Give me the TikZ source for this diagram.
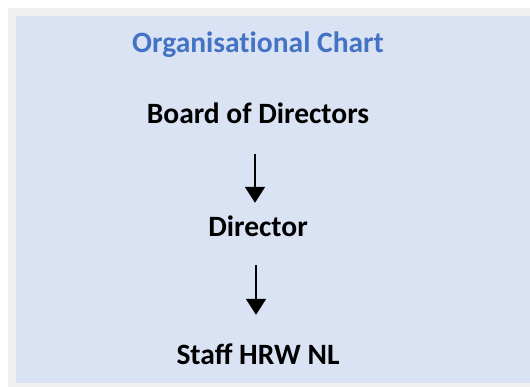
\documentclass[tikz,border=0pt]{standalone}
\usepackage{fontspec}
\setmainfont{Carlito}
\usetikzlibrary{arrows.meta}
\definecolor{outergray}{RGB}{240,240,240}
\definecolor{panelblue}{RGB}{218,227,243}
\definecolor{titleblue}{RGB}{68,114,196}
\tikzset{
  lbl/.style={anchor=base, inner sep=0pt, text height=19pt, text depth=6pt, font=\fontsize{29.5}{34}\selectfont\bfseries},
  arr/.style={line width=2pt, -{Triangle[width=20pt,length=16pt]}}
}
\begin{document}
\begin{tikzpicture}[x=1pt,y=1pt]
\useasboundingbox (0,0) rectangle (530,387);
\fill[white] (0,0) rectangle (530,387);
\fill[outergray] (8,0) rectangle (530,379);
\fill[panelblue] (16,4) rectangle (530,371);
\node[lbl, text=titleblue] (title) at (258,334) {\addfontfeatures{Ligatures=NoCommon}Organisational Chart};
\node[lbl] (board) at (258,263) {Board of Directors};
\node[lbl] (director) at (258,150) {Director};
\node[lbl] (staff) at (258,22) {Staff HRW NL};
\draw[arr, shorten <=24pt, shorten >=15pt] ([xshift=-3pt]board.south) -- ([xshift=-3pt]director.north);
\draw[arr, shorten <=22pt, shorten >=31pt] ([xshift=-2pt]director.south) -- ([xshift=-2pt]staff.north);
\end{tikzpicture}
\end{document}
